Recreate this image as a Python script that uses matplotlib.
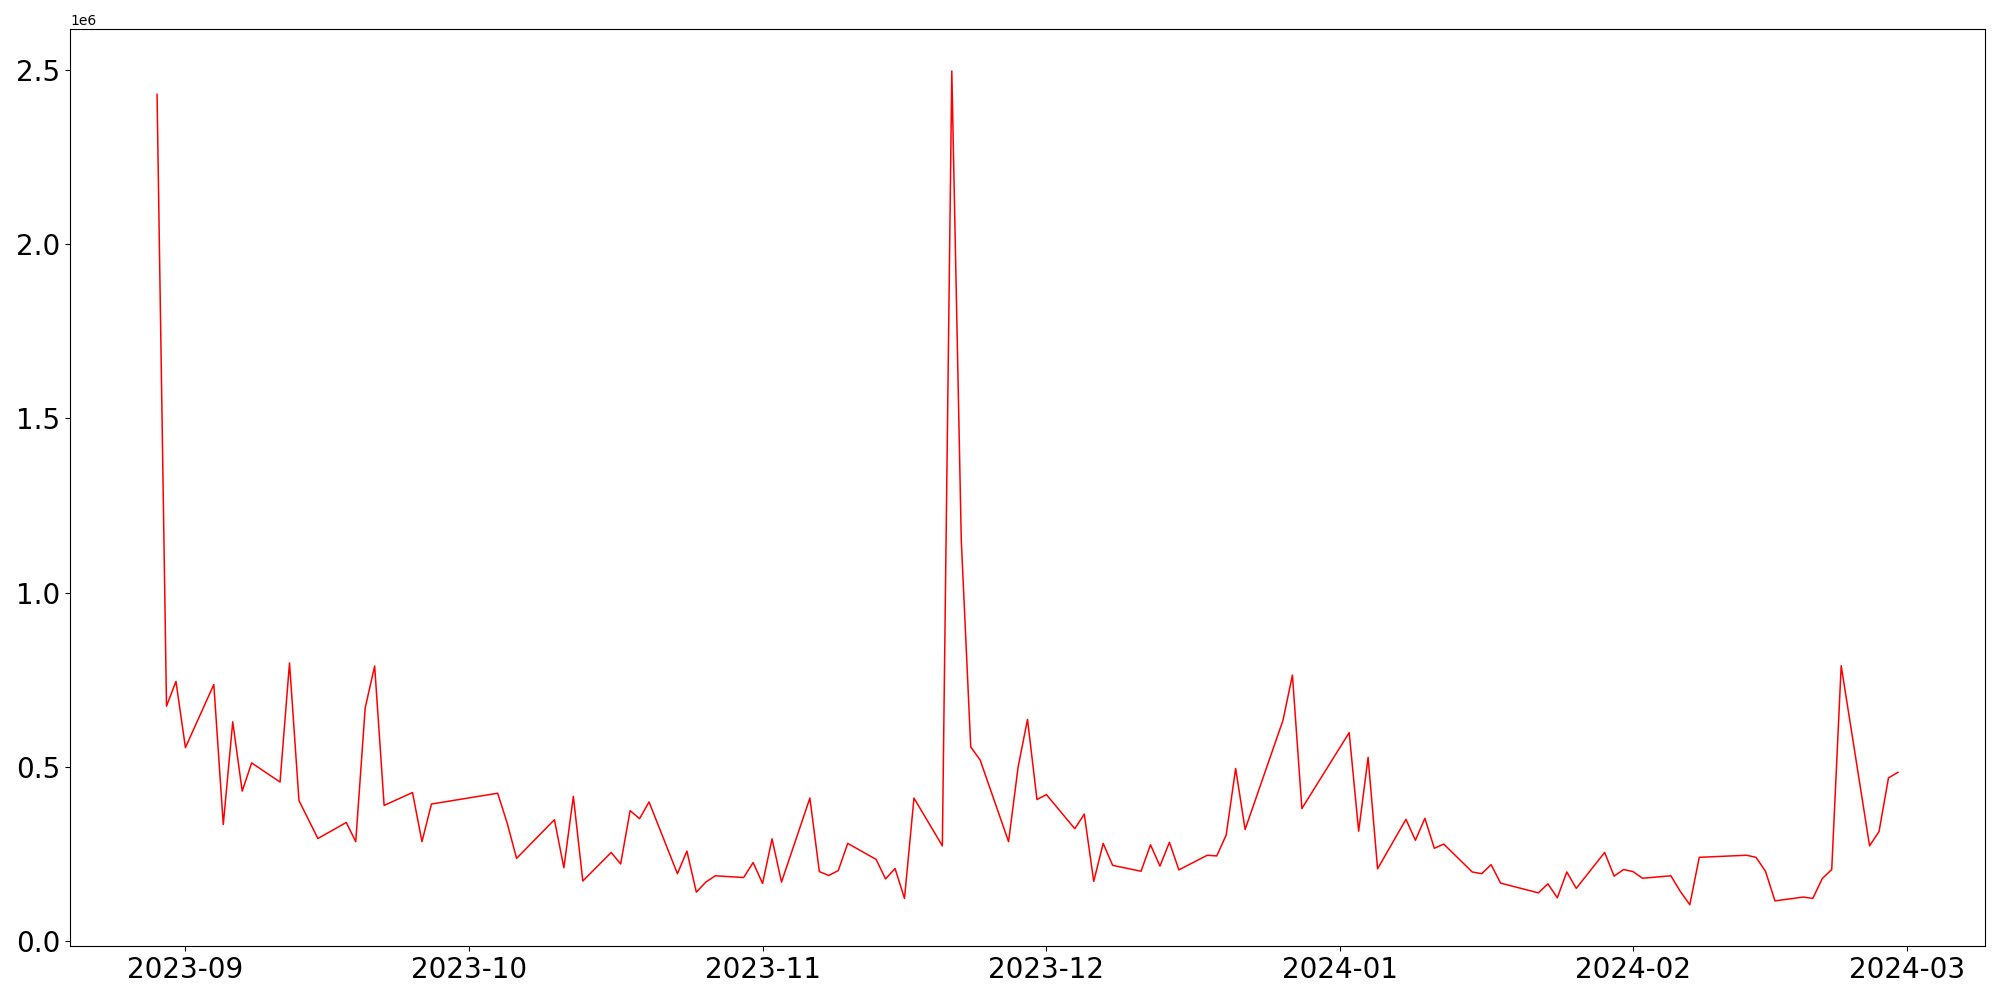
import pandas as pd
import matplotlib
matplotlib.use('Agg')
import matplotlib.pyplot as plt

dates = [
    '2023-08-29', '2023-08-30', '2023-08-31', '2023-09-01', '2023-09-04', '2023-09-05',
    '2023-09-06', '2023-09-07', '2023-09-08', '2023-09-11', '2023-09-12', '2023-09-13',
    '2023-09-15', '2023-09-18', '2023-09-19', '2023-09-20', '2023-09-21', '2023-09-22',
    '2023-09-25', '2023-09-26', '2023-09-27', '2023-10-04', '2023-10-05', '2023-10-06',
    '2023-10-10', '2023-10-11', '2023-10-12', '2023-10-13', '2023-10-16', '2023-10-17',
    '2023-10-18', '2023-10-19', '2023-10-20', '2023-10-23', '2023-10-24', '2023-10-25',
    '2023-10-26', '2023-10-27', '2023-10-30', '2023-10-31', '2023-11-01', '2023-11-02',
    '2023-11-03', '2023-11-06', '2023-11-07', '2023-11-08', '2023-11-09', '2023-11-10',
    '2023-11-13', '2023-11-14', '2023-11-15', '2023-11-16', '2023-11-17', '2023-11-20',
    '2023-11-21', '2023-11-22', '2023-11-23', '2023-11-24', '2023-11-27', '2023-11-28',
    '2023-11-29', '2023-11-30', '2023-12-01', '2023-12-04', '2023-12-05', '2023-12-06',
    '2023-12-07', '2023-12-08', '2023-12-11', '2023-12-12', '2023-12-13', '2023-12-14',
    '2023-12-15', '2023-12-18', '2023-12-19', '2023-12-20', '2023-12-21', '2023-12-22',
    '2023-12-26', '2023-12-27', '2023-12-28', '2024-01-02', '2024-01-03', '2024-01-04',
    '2024-01-05', '2024-01-08', '2024-01-09', '2024-01-10', '2024-01-11', '2024-01-12',
    '2024-01-15', '2024-01-16', '2024-01-17', '2024-01-18', '2024-01-22', '2024-01-23',
    '2024-01-24', '2024-01-25', '2024-01-26', '2024-01-29', '2024-01-30', '2024-01-31',
    '2024-02-01', '2024-02-02', '2024-02-05', '2024-02-06', '2024-02-07', '2024-02-08',
    '2024-02-13', '2024-02-14', '2024-02-15', '2024-02-16', '2024-02-19', '2024-02-20',
    '2024-02-21', '2024-02-22', '2024-02-23', '2024-02-26', '2024-02-27', '2024-02-28',
    '2024-02-29',
]

volume = [
    2.43, 0.674, 0.745, 0.555, 0.736, 0.334,
    0.629, 0.430, 0.511, 0.456, 0.798, 0.403,
    0.294, 0.340, 0.285, 0.669, 0.789, 0.389,
    0.426, 0.285, 0.393, 0.424, 0.339, 0.237,
    0.348, 0.210, 0.415, 0.172, 0.254, 0.221,
    0.374, 0.351, 0.399, 0.193, 0.258, 0.140,
    0.169, 0.187, 0.182, 0.225, 0.165, 0.293,
    0.169, 0.410, 0.199, 0.188, 0.202, 0.280,
    0.234, 0.178, 0.208, 0.122, 0.410, 0.273,
    2.497, 1.151, 0.557, 0.519, 0.285, 0.498,
    0.636, 0.406, 0.420, 0.322, 0.364, 0.171,
    0.280, 0.217, 0.200, 0.276, 0.215, 0.283,
    0.204, 0.246, 0.244, 0.304, 0.495, 0.320,
    0.633, 0.763, 0.380, 0.598, 0.315, 0.527,
    0.207, 0.349, 0.289, 0.352, 0.266, 0.278,
    0.198, 0.193, 0.219, 0.166, 0.138, 0.164,
    0.124, 0.198, 0.151, 0.254, 0.186, 0.205,
    0.199, 0.180, 0.187, 0.142, 0.104, 0.240,
    0.246, 0.240, 0.200, 0.115, 0.126, 0.122,
    0.179, 0.205, 0.790, 0.273, 0.314, 0.468,
    0.484,
]

s = pd.Series([v * 1e6 for v in volume], index=pd.to_datetime(dates))

fig, ax = plt.subplots(figsize=(20, 10), dpi=100)
ax.plot(s.index, s.values, color='red', linewidth=1.1)
ax.tick_params(axis='both', labelsize=20)
plt.subplots_adjust(left=0.035, right=0.9925, top=0.9707, bottom=0.0536)
plt.savefig('out.png')
